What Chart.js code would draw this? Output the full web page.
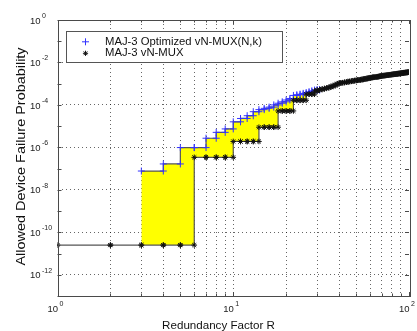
<!DOCTYPE html>
<html>
<head>
<meta charset="utf-8">
<script src="https://cdn.jsdelivr.net/npm/chart.js@4.4.1/dist/chart.umd.min.js"></script>
<style>
    html, body { margin: 0; padding: 0; background: #ffffff; }
    #wrap { width: 417px; height: 331px; position: relative; }
</style>
</head>
<body>
<div id="wrap"><canvas id="chart"></canvas></div>
<script>

/* ==========================================================
   DATA
========================================================== */

// MAJ-3 vN-MUX, one value per integer R starting at R = 1
const vnmuxStartR = 1;
const vnmuxValues = [
    2.5e-11, 2.5e-11, 2.5e-11, 2.5e-11, 2.5e-11,
    3.4e-7, 3.4e-7, 3.4e-7, 3.4e-7,
    1.9e-6, 1.9e-6, 1.9e-6, 1.9e-6,
    8.9e-6, 8.9e-6, 8.9e-6, 8.9e-6,
    5.2e-5, 5.2e-5, 5.2e-5, 5.2e-5,
    1.65e-4, 1.65e-4, 1.65e-4, 1.65e-4,
    3.2e-4, 3.2e-4, 3.2e-4,
    4.47e-4,
    5.01e-4, 5.25e-4, 5.62e-4, 6.03e-4, 6.31e-4, 6.92e-4, 7.41e-4, 8.13e-4, 8.91e-4, 1.0e-3,
    1.07e-3, 1.10e-3, 1.12e-3, 1.17e-3, 1.20e-3, 1.26e-3, 1.29e-3, 1.32e-3, 1.38e-3, 1.41e-3,
    1.45e-3, 1.48e-3, 1.51e-3, 1.55e-3, 1.58e-3, 1.66e-3, 1.70e-3, 1.74e-3, 1.78e-3, 1.86e-3,
    1.91e-3, 1.95e-3, 2.00e-3, 2.04e-3, 2.04e-3, 2.09e-3, 2.14e-3, 2.19e-3, 2.24e-3, 2.29e-3,
    2.34e-3, 2.40e-3, 2.40e-3, 2.45e-3, 2.51e-3, 2.51e-3, 2.57e-3, 2.63e-3, 2.63e-3, 2.69e-3,
    2.75e-3, 2.75e-3, 2.82e-3, 2.82e-3, 2.88e-3, 2.95e-3, 2.95e-3, 3.02e-3, 3.02e-3, 3.09e-3,
    3.16e-3, 3.16e-3, 3.24e-3, 3.24e-3, 3.31e-3, 3.31e-3, 3.39e-3, 3.39e-3, 3.47e-3, 3.47e-3,
    3.55e-3
];

// MAJ-3 Optimized vN-MUX(N,k), one value per integer R starting at R = 3
const optStartR = 3;
const optValues = [
    7.7e-8, 1.66e-7, 9.8e-7, 9.8e-7, 2.7e-6, 5.1e-6, 7.4e-6,
    1.6e-5, 2.3e-5, 3.1e-5, 4.8e-5, 6.0e-5, 6.9e-5, 7.9e-5,
    1.0e-4, 1.2e-4, 1.4e-4, 1.7e-4, 2.0e-4, 2.8e-4, 3.0e-4,
    3.2e-4, 3.5e-4, 3.8e-4, 4.2e-4, 4.6e-4, 5.0e-4, 5.1e-4, 5.25e-4
];

const seriesLabels = ["MAJ-3 Optimized vN-MUX(N,k)", "MAJ-3 vN-MUX"];

// axis ticks
const xTicks = [1, 2, 3, 4, 5, 6, 7, 8, 9, 10, 20, 30, 40, 50, 60, 70, 80, 90, 100];
const xLabelExps = [0, 1, 2];
const yTickExps = [-13, -12, -11, -10, -9, -8, -7, -6, -5, -4, -3, -2, -1, 0];
const yLabelExps = [0, -2, -4, -6, -8, -10, -12];

const xTitle = "Redundancy Factor R";
const yTitle = "Allowed Device Failure Probability";

/* ==========================================================
   STAIRS (like MATLAB stairs: two points per step)
========================================================== */

function stairs(startR, values) {
    const pts = [];
    values.forEach((v, i) => {
        pts.push({ x: startR + i, y: v });
        if (i < values.length - 1) {
            pts.push({ x: startR + i + 1, y: v });
        }
    });
    return pts;
}

const FONT = '"Liberation Sans", Arial, Helvetica, sans-serif';
const AXIS_COLOR = "#4a4a4a";

/* ==========================================================
   AXES / LABELS / LEGEND PLUGIN
========================================================== */

function drawPow(ctx, exp, x, y, baseSize, expSize) {
    // "10" right aligned at x, exponent after it, raised
    ctx.textBaseline = "middle";
    ctx.font = baseSize + "px " + FONT;
    ctx.textAlign = "right";
    ctx.fillText("10", x, y);
    ctx.font = expSize + "px " + FONT;
    ctx.textAlign = "left";
    ctx.fillText(String(exp), x + 1.5, y - 5);
}

const matlabAxes = {

    id: "matlabAxes",

    afterDraw(chart) {

        const { ctx, chartArea: { left, right, top, bottom } } = chart;
        const xs = chart.scales.x;
        const ys = chart.scales.y;

        ctx.save();

        // tick marks pointing inward
        ctx.strokeStyle = AXIS_COLOR;
        ctx.lineWidth = 1;
        ctx.beginPath();
        yTickExps.forEach(e => {
            const py = Math.round(ys.getPixelForValue(Math.pow(10, e))) + 0.5;
            ctx.moveTo(left, py); ctx.lineTo(left + 4, py);
            ctx.moveTo(right, py); ctx.lineTo(right - 4, py);
        });
        xTicks.forEach(v => {
            const px = Math.round(xs.getPixelForValue(v)) + 0.5;
            const len = (v === 1 || v === 10 || v === 100) ? 4 : 2.5;
            ctx.moveTo(px, bottom); ctx.lineTo(px, bottom - len);
            ctx.moveTo(px, top); ctx.lineTo(px, top + len);
        });
        ctx.stroke();

        // axes box
        ctx.strokeRect(Math.round(left) + 0.5, Math.round(top) + 0.5,
            Math.round(right - left), Math.round(bottom - top));

        // tick labels
        ctx.fillStyle = "#222222";
        yLabelExps.forEach(e => {
            const py = ys.getPixelForValue(Math.pow(10, e));
            drawPow(ctx, e, left - 17, py + 1, 9.5, 7);
        });
        xLabelExps.forEach(e => {
            const px = xs.getPixelForValue(Math.pow(10, e));
            drawPow(ctx, e, px + 0.5, bottom + 13.5, 9.5, 7);
        });

        // axis titles
        ctx.fillStyle = "#111111";
        ctx.font = "11.6px " + FONT;
        ctx.textAlign = "center";
        ctx.textBaseline = "alphabetic";
        ctx.fillText(xTitle, 218.5, 329);

        ctx.save();
        ctx.translate(21.7, (top + bottom) / 2 - 1.5);
        ctx.rotate(-Math.PI / 2);
        ctx.scale(1.11, 1);
        ctx.font = "13px " + FONT;
        ctx.textBaseline = "middle";
        ctx.fillText(yTitle, 0, 0);
        ctx.restore();

        // legend box
        const lx = 66.5, ly = 31.5, lw = 216, lh = 31;
        ctx.fillStyle = "#ffffff";
        ctx.fillRect(lx, ly, lw, lh);
        ctx.strokeStyle = "#555555";
        ctx.strokeRect(lx, ly, lw, lh);

        const rows = [
            { y: 41.8, color: "#3333ff", style: "cross", r: 3.5 },
            { y: 53.3, color: "#111111", style: "star", r: 2.6 }
        ];
        rows.forEach((row, i) => {
            ctx.strokeStyle = row.color;
            ctx.fillStyle = row.color;
            ctx.lineWidth = 1;
            Chart.helpers.drawPoint(ctx, {
                pointStyle: row.style, radius: row.r, rotation: 0, borderWidth: 1
            }, 85.5, row.y);
            ctx.fillStyle = "#111111";
            ctx.font = "11.3px " + FONT;
            ctx.textAlign = "left";
            ctx.textBaseline = "middle";
            ctx.fillText(seriesLabels[i], 105, row.y);
        });

        ctx.restore();
    }

};

/* ==========================================================
   CHART
========================================================== */

new Chart(document.getElementById("chart"), {

    type: "line",

    data: {
        datasets: [
            {
                label: seriesLabels[0],
                data: stairs(optStartR, optValues),
                order: 1,
                borderColor: "#555555",
                borderWidth: 1.2,
                backgroundColor: "#ffff00",
                fill: 1,
                pointStyle: "cross",
                pointRadius: 3.5,
                pointBorderColor: "#3333ff",
                pointBorderWidth: 1,
                tension: 0
            },
            {
                label: seriesLabels[1],
                data: stairs(vnmuxStartR, vnmuxValues),
                order: 0,
                borderColor: "#555555",
                borderWidth: 1.2,
                fill: false,
                pointStyle: "star",
                pointRadius: 2.8,
                pointBorderColor: "#111111",
                pointBackgroundColor: "#111111",
                pointBorderWidth: 1,
                tension: 0
            }
        ]
    },

    options: {

        responsive: true,
        maintainAspectRatio: false,
        animation: false,
        devicePixelRatio: 1,

        layout: {
            padding: { left: 57.5, right: 8, top: 20, bottom: 35 }
        },

        plugins: {
            legend: { display: false },
            tooltip: { enabled: false }
        },

        scales: {

            x: {
                type: "logarithmic",
                min: 1,
                max: 100,
                afterBuildTicks: axis => {
                    axis.ticks = xTicks
                        .filter(v => v !== 1 && v !== 100)
                        .map(v => ({ value: v }));
                },
                ticks: { display: false, autoSkip: false },
                grid: { color: "rgba(0,0,0,0.6)", lineWidth: 1, drawTicks: false },
                border: { display: false, dash: [1, 3] }
            },

            y: {
                type: "logarithmic",
                min: 1e-13,
                max: 1,
                afterBuildTicks: axis => {
                    axis.ticks = yLabelExps
                        .filter(e => e !== 0)
                        .map(e => ({ value: Math.pow(10, e) }));
                },
                ticks: { display: false, autoSkip: false },
                grid: { color: "rgba(0,0,0,0.6)", lineWidth: 1, drawTicks: false },
                border: { display: false, dash: [1, 3] }
            }

        }

    },

    plugins: [matlabAxes]

});

</script>
</body>
</html>
